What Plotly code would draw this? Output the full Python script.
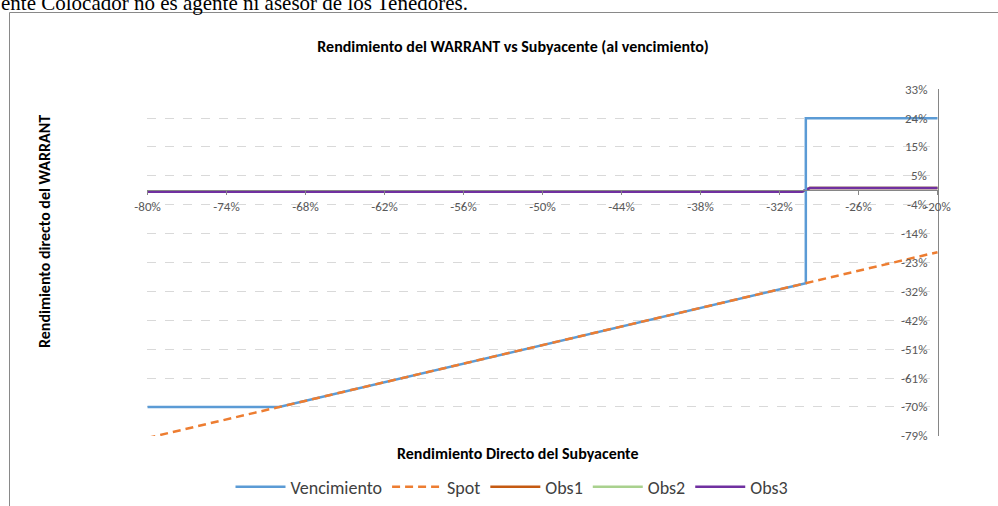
import numpy as np
import plotly.graph_objects as go

# ---- data ----
x_venc = [-0.80, -0.70, -0.30, -0.30, -0.20]
y_venc = [-0.70, -0.70, -0.30, 0.233, 0.233]
x_spot = [-0.80, -0.20]
y_spot = [-0.80, -0.20]
x_obs = [-0.80, -0.303, -0.297, -0.20]
y_obs1 = [-0.005, -0.005, 0.007, 0.007]
y_obs2 = [-0.005, -0.005, 0.007, 0.007]
y_obs3 = [-0.005, -0.005, 0.007, 0.007]
x_tick_labels = ["-80%", "-74%", "-68%", "-62%", "-56%", "-50%", "-44%", "-38%", "-32%", "-26%", "-20%"]
y_tick_labels = ["-79%", "-70%", "-61%", "-51%", "-42%", "-32%", "-23%", "-14%", "-4%", "5%", "15%", "24%", "33%"]

Y_MIN, Y_MAX = -0.7933, 0.3267
X_MIN, X_MAX = -0.80, -0.20
EPS = 0.0004

FONT = "Calibri, Carlito, Lato, sans-serif"
W, H = 998, 506
L, R, T, B = 147, 60, 89, 70
PW, PH = W - L - R, H - T - B

def px(x):
    return (x - L) / PW

def py(y):
    return (H - B - y) / PH

fig = go.Figure()
fig.add_trace(go.Scatter(x=x_obs, y=y_obs1, mode="lines", name="Obs1",
                         line=dict(color="#C55A11", width=2.5)))
fig.add_trace(go.Scatter(x=x_obs, y=y_obs2, mode="lines", name="Obs2",
                         line=dict(color="#A9D18E", width=2.5)))
fig.add_trace(go.Scatter(x=x_obs, y=y_obs3, mode="lines", name="Obs3",
                         line=dict(color="#7030A0", width=2.5)))
fig.add_trace(go.Scatter(x=x_venc, y=y_venc, mode="lines", name="Vencimiento",
                         line=dict(color="#5B9BD5", width=2.5)))
fig.add_trace(go.Scatter(x=x_spot, y=y_spot, mode="lines", name="Spot",
                         line=dict(color="#ED7D31", width=2.5, dash="8px,5px")))

order = {"Vencimiento": 1, "Spot": 2, "Obs1": 3, "Obs2": 4, "Obs3": 5}
for tr in fig.data:
    tr.legendrank = order[tr.name]

y_tickvals = list(np.linspace(Y_MIN, Y_MAX, len(y_tick_labels)))
x_tickvals = list(np.linspace(X_MIN, X_MAX, len(x_tick_labels)))

fig.update_layout(
    width=W, height=H,
    margin=dict(l=L, r=R, t=T, b=B, autoexpand=False),
    paper_bgcolor="white", plot_bgcolor="white",
    font=dict(family=FONT, size=13, color="#595959"),
    showlegend=True,
    legend=dict(orientation="h", x=px(512), y=py(487), xanchor="center", yanchor="middle",
                font=dict(family=FONT, size=18, color="#404040"),
                itemwidth=50, traceorder="normal"),
    title=dict(text="<b>Rendimiento del WARRANT vs Subyacente (al vencimiento)</b>",
               x=513 / W, y=1 - 46 / H, xanchor="center", yanchor="middle",
               font=dict(family=FONT, size=16, color="#000000")),
    xaxis=dict(range=[X_MIN - EPS, X_MAX + EPS], tickvals=x_tickvals, ticktext=x_tick_labels,
               anchor="free", position=(0 - Y_MIN) / (Y_MAX - Y_MIN),
               showline=True, linecolor="#868686", linewidth=1,
               ticks="outside", ticklen=4, tickcolor="#868686",
               showgrid=False, zeroline=False,
               tickfont=dict(family=FONT, size=13, color="#595959")),
    yaxis=dict(range=[Y_MIN - EPS, Y_MAX + EPS], tickvals=y_tickvals,
               side="right", anchor="x", showticklabels=False,
               showline=True, linecolor="#868686", linewidth=1,
               ticks="", showgrid=True, gridcolor="#D9D9D9", griddash="dash", gridwidth=1,
               zeroline=False),
)

# y tick labels sit just left of the right-hand axis line
for v, t in zip(y_tickvals, y_tick_labels):
    fig.add_annotation(text=t, xref="paper", yref="y", x=px(929), y=v, showarrow=False,
                       xanchor="right", yanchor="middle", bgcolor="rgba(0,0,0,0)",
                       font=dict(family=FONT, size=13, color="#595959"))

fig.add_annotation(text="<b>Rendimiento Directo del Subyacente</b>", xref="paper", yref="paper",
                   x=px(518), y=py(453), showarrow=False, xanchor="center", yanchor="middle",
                   font=dict(family=FONT, size=16, color="#000000"))
fig.add_annotation(text="<b>Rendimiento directo del WARRANT</b>", xref="paper", yref="paper",
                   x=px(44), y=py(232), showarrow=False, textangle=-90,
                   xanchor="center", yanchor="middle",
                   font=dict(family=FONT, size=16, color="#000000"))
fig.add_annotation(text="ente Colocador no es agente ni asesor de los Tenedores.",
                   xref="paper", yref="paper", x=px(-1), y=py(3), showarrow=False,
                   xanchor="left", yanchor="middle",
                   font=dict(family="Liberation Serif, Times New Roman, serif", size=21, color="#000000"))
fig.add_shape(type="rect", xref="paper", yref="paper",
              x0=px(9.5), x1=px(1010), y0=py(530), y1=py(12.5),
              line=dict(color="#898989", width=1), fillcolor="rgba(0,0,0,0)", layer="below")

fig.write_html("out.html", config={"displayModeBar": False},
               post_script="document.body.style.margin='0px';")
